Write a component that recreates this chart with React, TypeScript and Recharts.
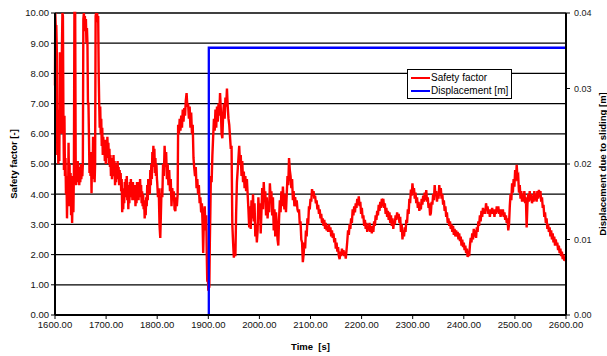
import React from "react";
import {
  CartesianGrid,
  Line,
  LineChart,
  XAxis,
  YAxis,
} from "recharts";

// Safety factor against sliding, [time s, factor -]
const safetyFactor: [number, number][] = [
  [1600, 7.6], [1600.5, 10.0], [1601.5, 9.5], [1602.5, 9.6], [1603.5, 8.8], [1604.5, 5.3], [1605.5, 6.8],
  [1606.5, 5.0], [1607.5, 6.2], [1608.5, 5.1], [1609.5, 8.7], [1610.5, 8.6], [1611.5, 8.2], [1612.5, 6.0],
  [1613.5, 8.7], [1614.5, 10.0], [1615.5, 9.9], [1616.5, 6.5], [1617.5, 4.8], [1618.5, 6.6], [1619.5, 4.6],
  [1620.5, 5.2], [1621.5, 4.0], [1622.5, 4.6], [1623.5, 3.2], [1624.5, 4.4], [1625.5, 3.6], [1626.5, 5.7],
  [1627.5, 4.3], [1628.5, 5.0], [1629.5, 3.6], [1630.5, 4.7], [1631.5, 3.3], [1632.5, 4.3], [1633.5, 3.05],
  [1635, 4.6], [1636, 3.4], [1637, 4.8], [1638, 10.0], [1639.5, 10.0], [1640.5, 4.9], [1641.5, 4.3],
  [1642.5, 5.0], [1643.5, 4.4], [1644.5, 5.1], [1645.5, 4.5], [1646.5, 4.9], [1647.5, 4.3], [1648.5, 4.9],
  [1649.5, 4.4], [1650.5, 5.0], [1651.5, 4.5], [1652.5, 4.8], [1653.5, 4.6], [1654.5, 5.0], [1655.5, 9.8],
  [1656.5, 10.0], [1657.5, 9.7], [1658.5, 9.9], [1659.5, 9.4], [1660.5, 9.8], [1661.5, 9.0], [1662.5, 9.5],
  [1663.5, 9.0], [1664.5, 7.0], [1665.5, 7.0], [1666.5, 5.9], [1667.5, 4.7], [1668.5, 5.4], [1669.5, 4.6],
  [1670.5, 5.4], [1671.5, 4.03], [1672.5, 5.4], [1673.5, 4.5], [1674.5, 5.9], [1675.5, 4.6], [1676.5, 5.5],
  [1677.5, 4.4], [1678.5, 5.0], [1679.5, 9.9], [1680.5, 10.0], [1681.5, 9.8], [1682.5, 10.0], [1683.5, 9.7],
  [1684.5, 9.9], [1685.5, 8.0], [1686.5, 7.0], [1687.5, 6.2], [1688.5, 6.9], [1689.5, 6.0], [1690.5, 6.5],
  [1691.5, 5.6], [1692.5, 6.2], [1693.5, 5.3], [1694.5, 5.9], [1695.5, 5.3], [1696.5, 5.8], [1697.5, 5.1],
  [1698.5, 5.6], [1699.5, 5.0], [1700.5, 5.8], [1701.5, 5.2], [1702.5, 5.9], [1703.5, 5.3], [1704.5, 5.7],
  [1705.5, 5.0], [1706.5, 5.5], [1707.5, 4.9], [1708.5, 5.3], [1709.5, 4.6], [1710.5, 5.2], [1711.5, 4.5],
  [1712.5, 5.0], [1713.5, 4.6], [1714.5, 5.3], [1715.5, 4.7], [1716.5, 5.1], [1717.5, 4.3], [1718.5, 4.9],
  [1719.5, 4.4], [1720.5, 5.0], [1721.5, 4.5], [1722.5, 5.1], [1723.5, 4.6], [1724.5, 4.9], [1725.5, 4.3],
  [1726.5, 4.8], [1727.5, 4.4], [1728.5, 4.7], [1729.5, 4.1], [1730.5, 4.5], [1731.5, 3.4], [1732.5, 3.9],
  [1733.5, 3.5], [1734.5, 4.2], [1735.5, 3.7], [1736.5, 4.4], [1737.5, 3.9], [1738.5, 4.5], [1739.5, 4.0],
  [1740.5, 4.6], [1741.5, 3.8], [1742.5, 4.3], [1743.5, 3.5], [1744.5, 4.1], [1745.5, 3.7], [1746.5, 4.4],
  [1747.5, 4.0], [1748.5, 4.5], [1749.5, 3.9], [1750.5, 4.3], [1751.5, 3.8], [1752.5, 4.4], [1753.5, 3.9],
  [1754.5, 4.2], [1755.5, 3.8], [1756.5, 4.3], [1757.5, 3.6], [1758.5, 4.1], [1759.5, 3.7], [1760.5, 4.4],
  [1761.5, 3.9], [1762.5, 4.2], [1763.5, 3.8], [1764.5, 4.4], [1765.5, 3.9], [1766.5, 4.5], [1767.5, 4.0],
  [1768.5, 4.3], [1769.5, 3.7], [1770.5, 4.1], [1771.5, 3.6], [1772.5, 4.0], [1773.5, 3.5], [1774.5, 3.8],
  [1775.5, 3.2], [1776.5, 3.6], [1777.5, 3.3], [1778.5, 3.9], [1779.5, 3.6], [1780.5, 4.3], [1781.5, 3.8],
  [1782.5, 4.5], [1783.5, 4.0], [1784.5, 4.4], [1785.5, 4.0], [1786.5, 4.8], [1787.5, 4.3], [1788.5, 5.0],
  [1789.5, 4.5], [1790.5, 5.4], [1791.5, 4.9], [1792.5, 5.6], [1793.5, 5.0], [1794.5, 5.5], [1795.5, 4.7],
  [1796.5, 5.2], [1797.5, 4.6], [1798.5, 5.0], [1799.5, 4.5],
  [1800, 4.4], [1801.5, 3.9], [1803, 4.2], [1804.5, 3.0], [1806, 2.55], [1807, 3.2], [1808.5, 4.2],
  [1810, 3.9], [1811.5, 5.0], [1813, 4.6], [1814.5, 5.6], [1816, 4.9], [1817.5, 5.4], [1819, 4.5],
  [1820.5, 5.0], [1822, 4.3], [1823.5, 4.8], [1825, 4.1], [1826.5, 4.5], [1828, 3.6], [1829.5, 4.2],
  [1831, 3.8], [1832.5, 4.1], [1834, 3.5], [1835.5, 3.44], [1837, 3.9], [1838.5, 3.6], [1840, 4.0],
  [1841, 6.3], [1842.5, 6.0], [1844, 6.5], [1845.5, 6.1], [1847, 6.6], [1848.5, 6.2], [1850, 6.8],
  [1851.5, 6.4], [1853, 6.85], [1854.5, 6.6], [1856, 7.1], [1857.5, 7.35], [1859, 6.9], [1860.5, 7.0],
  [1862, 6.5], [1863.5, 6.9], [1865, 6.2], [1866.5, 6.7], [1868, 6.0], [1869.5, 6.3], [1871, 5.2],
  [1872.5, 4.87], [1874, 4.6], [1875.5, 4.9], [1877, 4.2], [1878.5, 4.5], [1880, 4.0], [1881.5, 4.3],
  [1883, 3.7], [1884.5, 3.9], [1886, 3.4], [1887.5, 3.7], [1889, 2.9], [1890, 2.05], [1891.5, 3.3],
  [1893, 3.6], [1894.5, 2.8], [1896, 3.3], [1897, 2.0], [1898, 1.1], [1899, 1.4], [1900, 0.8],
  [1901, 1.3], [1902, 0.9], [1903, 2.4], [1904, 3.4], [1905, 4.6], [1906.5, 4.4], [1908, 5.3],
  [1909.5, 5.9], [1911, 6.5], [1912.5, 6.1], [1914, 6.8], [1915.5, 6.2], [1917, 6.9], [1918.5, 6.4],
  [1920, 7.0], [1921.5, 6.6], [1923, 7.35], [1924.5, 6.8], [1926, 6.0], [1927.5, 5.85], [1929, 6.6],
  [1930.5, 7.0], [1932, 6.5], [1933.5, 7.2], [1935, 6.9], [1936.5, 7.5], [1938, 6.9], [1939.5, 6.5],
  [1941, 6.3], [1942.5, 5.9], [1944, 5.5], [1945.5, 5.6], [1947, 3.0], [1948.5, 2.4], [1950, 1.9],
  [1951.5, 2.2], [1953, 1.95], [1954.5, 3.4], [1956, 4.4], [1957.5, 4.8], [1959, 5.2], [1960.5, 5.6],
  [1962, 5.0], [1963.5, 5.3], [1965, 4.6], [1966.5, 5.1], [1968, 4.4], [1969.5, 4.75], [1971, 4.2],
  [1972.5, 4.6], [1974, 4.1], [1975.5, 4.5], [1977, 4.0], [1978.5, 3.5], [1980, 2.9], [1981.5, 3.6],
  [1983, 2.85], [1984.5, 3.8], [1986, 3.2], [1987.5, 4.0], [1989, 3.1], [1990.5, 3.7], [1992, 2.6],
  [1993.5, 3.0], [1995, 2.4], [1996.5, 2.8], [1998, 3.9], [1999.5, 3.2], [2001, 3.7], [2002.5, 2.7],
  [2004, 3.4], [2005.5, 4.2], [2007, 3.5], [2008.5, 4.4], [2010, 3.8], [2011.5, 4.1], [2013, 3.3],
  [2014.5, 3.9], [2016, 3.2], [2017.5, 3.7], [2019, 3.4], [2020.5, 4.36], [2022, 3.9], [2023.5, 4.1],
  [2025, 3.3], [2026.5, 3.9], [2028, 2.8], [2029.5, 3.5], [2031, 2.6], [2032.5, 3.4], [2034, 3.0],
  [2035.5, 2.5], [2037, 2.3], [2038.5, 3.2], [2040, 3.8], [2041.5, 3.4], [2043, 4.1], [2044.5, 3.6],
  [2046, 4.25], [2047.5, 3.8], [2049, 3.5], [2050.5, 4.0], [2052, 3.4], [2053.5, 4.0], [2055, 4.6],
  [2056.5, 4.3], [2058, 5.2], [2059.5, 4.8], [2061, 4.6], [2062.5, 4.2], [2064, 4.5], [2065.5, 3.8],
  [2067, 4.1], [2068.5, 3.6], [2070, 3.9], [2071.5, 3.6], [2073, 3.8], [2074.5, 3.5], [2076, 3.4],
  [2077.5, 3.5], [2079, 3.0], [2080.5, 3.1], [2082, 2.5], [2083.5, 2.4], [2085, 1.75], [2086.5, 2.0],
  [2088, 2.4], [2089.5, 2.2], [2091, 2.8], [2092.5, 2.6], [2094, 3.2], [2095.5, 3.0], [2097, 3.6],
  [2098.5, 3.5], [2100, 3.85], [2101.5, 3.75], [2103, 4.17], [2104.5, 4.0], [2106, 4.1], [2107.5, 3.85],
  [2109, 3.95], [2110.5, 3.7], [2112, 3.8], [2113.5, 3.5], [2115, 3.65], [2116.5, 3.35], [2118, 3.5],
  [2119.5, 3.2], [2121, 3.35], [2122.5, 3.05], [2124, 3.2], [2125.5, 2.95], [2127, 3.15], [2128.5, 2.85],
  [2130, 3.05], [2131.5, 2.8], [2133, 2.95], [2134.5, 2.75], [2136, 3.0], [2137.5, 2.75], [2139, 2.9],
  [2140.5, 2.6], [2142, 2.8], [2143.5, 2.55], [2145, 2.7], [2146.5, 2.4], [2148, 2.55], [2149.5, 2.2],
  [2151, 2.4], [2152.5, 2.1], [2154, 2.25], [2155.5, 1.95], [2157, 1.85], [2158.5, 2.1], [2160, 1.95],
  [2161.5, 2.2], [2163, 2.0], [2164.5, 2.15], [2166, 1.95], [2167.5, 2.1], [2169, 1.87], [2170.5, 2.15],
  [2172, 2.45], [2173.5, 2.8], [2175, 2.65], [2176.5, 3.0], [2178, 2.85], [2179.5, 3.2], [2181, 3.05],
  [2182.5, 3.5], [2184, 3.3], [2185.5, 3.6], [2187, 3.4], [2188.5, 3.7], [2190, 3.55], [2191.5, 3.85],
  [2193, 3.65], [2194.5, 3.93], [2196, 3.6], [2197.5, 3.75], [2199, 3.35], [2200.5, 3.55], [2202, 3.2],
  [2203.5, 3.3], [2205, 2.95], [2206.5, 3.15], [2208, 2.85], [2209.5, 3.05], [2211, 2.75], [2212.5, 2.95],
  [2214, 2.8], [2215.5, 3.05], [2217, 2.75], [2218.5, 2.95], [2220, 2.7], [2221.5, 2.95], [2223, 2.75],
  [2224.5, 3.1], [2226, 2.95], [2227.5, 3.3], [2229, 3.15], [2230.5, 3.45], [2232, 3.3], [2233.5, 3.65],
  [2235, 3.45], [2236.5, 3.75], [2238, 3.55], [2239.5, 3.85], [2241, 3.6], [2242.5, 3.85], [2244, 3.55],
  [2245.5, 3.7], [2247, 3.35], [2248.5, 3.55], [2250, 3.25], [2251.5, 3.45], [2253, 3.15], [2254.5, 3.4],
  [2256, 3.05], [2257.5, 3.3], [2259, 2.95], [2260.5, 3.2], [2262, 2.85], [2263.5, 3.1], [2265, 3.0],
  [2266.5, 3.3], [2268, 3.15], [2269.5, 3.4], [2271, 3.2], [2272.5, 3.35], [2274, 3.05], [2275.5, 3.25],
  [2277, 2.75], [2278.5, 3.0], [2280, 2.5], [2281.5, 2.8], [2283, 2.6], [2284.5, 2.9], [2286, 2.75],
  [2287.5, 3.15], [2289, 3.05], [2290.5, 3.5], [2292, 3.35], [2293.5, 3.85], [2295, 3.7], [2296.5, 4.15],
  [2298, 3.95], [2299.5, 4.36], [2301, 4.05], [2302.5, 4.2], [2304, 3.85], [2305.5, 4.05], [2307, 3.7],
  [2308.5, 3.9], [2310, 3.55], [2311.5, 3.75], [2313, 3.45], [2314.5, 3.65], [2316, 3.5], [2317.5, 3.85],
  [2319, 3.65], [2320.5, 3.95], [2322, 3.75], [2323.5, 4.05], [2325, 3.8], [2326.5, 4.14], [2328, 3.75],
  [2329.5, 3.9], [2331, 3.55], [2332.5, 3.7], [2334, 3.3], [2335.5, 3.37], [2337, 3.75], [2338.5, 3.65],
  [2340, 4.0], [2341.5, 3.8], [2343, 4.3], [2344.5, 3.95], [2346, 4.1], [2347.5, 3.75], [2349, 4.0],
  [2350.5, 3.85], [2352, 4.3], [2353.5, 3.95], [2355, 4.2], [2356.5, 3.85], [2358, 4.0], [2359.5, 3.65],
  [2361, 3.8], [2362.5, 3.45], [2364, 3.6], [2365.5, 3.25], [2367, 3.4], [2368.5, 3.05], [2370, 3.2],
  [2371.5, 2.95], [2373, 3.1], [2374.5, 2.85], [2376, 3.0], [2377.5, 2.75], [2379, 2.95], [2380.5, 2.65],
  [2382, 2.85], [2383.5, 2.6], [2385, 2.8], [2386.5, 2.6], [2388, 2.75], [2389.5, 2.5], [2391, 2.7],
  [2392.5, 2.45], [2394, 2.6], [2395.5, 2.3], [2397, 2.5], [2398.5, 2.25], [2400, 2.4], [2401.5, 2.15],
  [2403, 2.3], [2404.5, 2.05], [2406, 2.2], [2407.5, 1.92], [2409, 2.1], [2410.5, 1.95], [2412, 2.3],
  [2413.5, 2.55], [2415, 2.4], [2416.5, 2.7], [2418, 2.5], [2419.5, 2.85], [2421, 2.6], [2422.5, 2.8],
  [2424, 2.55], [2425.5, 2.9], [2427, 2.75], [2428.5, 3.1], [2430, 2.95], [2431.5, 3.3], [2433, 3.1],
  [2434.5, 3.45], [2436, 3.25], [2437.5, 3.55], [2439, 3.35], [2440.5, 3.5], [2442, 3.35], [2443.5, 3.7],
  [2445, 3.5], [2446.5, 3.6], [2448, 3.35], [2449.5, 3.5], [2451, 3.25], [2452.5, 3.5], [2454, 3.35],
  [2455.5, 3.55], [2457, 3.35], [2458.5, 3.5], [2460, 3.25], [2461.5, 3.5], [2463, 3.35], [2464.5, 3.6],
  [2466, 3.4], [2467.5, 3.6], [2469, 3.35], [2470.5, 3.5], [2472, 3.25], [2473.5, 3.5], [2475, 3.3],
  [2476.5, 3.5], [2478, 3.25], [2479.5, 3.4], [2481, 3.15], [2482.5, 3.3], [2484, 3.05], [2485.5, 3.2],
  [2487, 2.8], [2488.5, 3.0], [2490, 3.6], [2491.5, 4.0], [2493, 3.8], [2494.5, 4.36], [2496, 4.05],
  [2497.5, 4.5], [2499, 4.25], [2500.5, 4.8], [2502, 4.45], [2503.5, 4.97], [2505, 4.55], [2506.5, 4.6],
  [2508, 4.05], [2509.5, 4.3], [2511, 3.85], [2512.5, 4.1], [2514, 3.75], [2515.5, 4.0], [2517, 3.75],
  [2518.5, 4.1], [2520, 3.7], [2521.5, 3.9], [2523, 2.9], [2524.5, 3.65], [2526, 4.0], [2527.5, 3.75],
  [2529, 4.1], [2530.5, 3.8], [2532, 4.0], [2533.5, 3.7], [2535, 3.95], [2536.5, 3.75], [2538, 4.1],
  [2539.5, 3.8], [2541, 4.0], [2542.5, 3.75], [2544, 4.1], [2545.5, 3.85], [2547, 4.14], [2548.5, 3.9],
  [2550, 4.1], [2551.5, 3.75], [2553, 3.9], [2554.5, 3.55], [2556, 3.65], [2557.5, 3.25], [2559, 3.4],
  [2560.5, 3.05], [2562, 3.2], [2563.5, 2.85], [2565, 3.0], [2566.5, 2.75], [2568, 2.9], [2569.5, 2.6],
  [2571, 2.8], [2572.5, 2.5], [2574, 2.7], [2575.5, 2.4], [2577, 2.6], [2578.5, 2.3], [2580, 2.5],
  [2581.5, 2.3], [2583, 2.4], [2584.5, 2.15], [2586, 2.3], [2587.5, 2.05], [2589, 2.2], [2590.5, 1.95],
  [2592, 2.1], [2593.5, 1.85], [2595, 2.0], [2596.5, 1.8], [2598, 1.9], [2600, 1.77],
];

// Displacement due to sliding, [time s, displacement m]; zero until the slip event
const displacement: [number, number][] = [
  [1901, 0],
  [1901, 0.0354],
  [2600, 0.0354],
];

const timeTicks = [1600, 1700, 1800, 1900, 2000, 2100, 2200, 2300, 2400, 2500, 2600];
const safetyTicks = [0, 1, 2, 3, 4, 5, 6, 7, 8, 9, 10];
const displacementTicks = [0, 0.01, 0.02, 0.03, 0.04];

const seriesNames = [
  { color: "#ff0000", name: "Safety factor" },
  { color: "#0000ff", name: "Displacement [m]" },
];

const safetyData = safetyFactor.map(([t, v]) => ({ t, v }));
const displacementData = displacement.map(([t, d]) => ({ t, d }));

const FONT = "'Liberation Sans', Arial, sans-serif";

// key box sitting over the upper right of the plot
const LegendBox = () => (
  <div
    style={{
      position: "absolute",
      left: 407,
      top: 69,
      width: 105,
      height: 30,
      boxSizing: "border-box",
      border: "1px solid #000",
      background: "#fff",
      fontFamily: FONT,
      fontSize: 10,
      color: "#000",
      paddingTop: 1,
    }}
  >
    {seriesNames.map((item) => (
      <div
        key={item.name}
        style={{ display: "flex", alignItems: "center", height: 13, whiteSpace: "nowrap" }}
      >
        <span
          style={{
            display: "inline-block",
            width: 19,
            height: 2,
            marginLeft: 3,
            marginRight: 1,
            background: item.color,
          }}
        />
        <span>{item.name}</span>
      </div>
    ))}
  </div>
);

const rotatedTitle = (text: string, dx: number) => ({ viewBox }: any) => {
  const x = viewBox.x + dx;
  const y = viewBox.y + viewBox.height / 2;
  return (
    <text
      x={x}
      y={y}
      transform={`rotate(-90 ${x} ${y})`}
      textAnchor="middle"
      dominantBaseline="middle"
      fontFamily={FONT}
      fontSize={9.5}
      fontWeight="bold"
      fill="#000"
    >
      {text}
    </text>
  );
};

export default function App() {
  return (
    <div style={{ position: "absolute", left: 0, top: 0, width: 607, height: 356, background: "#fff" }}>
      <LineChart
        width={607}
        height={356}
        margin={{ top: 13, right: 0, bottom: 0, left: 0 }}
      >
        <CartesianGrid
          horizontal={true}
          vertical={false}
          yAxisId="left"
          stroke="#000"
          strokeWidth={1.3}
        />
        <XAxis
          dataKey="t"
          type="number"
          domain={[1600, 2600]}
          ticks={timeTicks}
          tickFormatter={(v: number) => v.toFixed(2)}
          height={41}
          axisLine={{ stroke: "#000", strokeWidth: 2 }}
          tickLine={{ stroke: "#000" }}
          tickSize={4}
          tick={{ fill: "#111", fontSize: 9.5, fontFamily: FONT }}
          label={{
            content: ({ viewBox }: any) => (
              <text
                x={viewBox.x + viewBox.width / 2}
                y={viewBox.y + 35}
                textAnchor="middle"
                fontFamily={FONT}
                fontSize={9.5}
                fontWeight="bold"
                fill="#000"
                style={{ whiteSpace: "pre" }}
              >
                {"Time  [s]"}
              </text>
            ),
          }}
        />
        <YAxis
          yAxisId="left"
          orientation="left"
          domain={[0, 10]}
          ticks={safetyTicks}
          tickFormatter={(v: number) => v.toFixed(2)}
          width={55}
          axisLine={{ stroke: "#000", strokeWidth: 2 }}
          tickLine={{ stroke: "#000" }}
          tickSize={4}
          tick={{ fill: "#111", fontSize: 9.5, fontFamily: FONT }}
          label={{ content: rotatedTitle("Safety factor [-]", 14) }}
        />
        <YAxis
          yAxisId="right"
          orientation="right"
          domain={[0, 0.04]}
          ticks={displacementTicks}
          tickFormatter={(v: number) => v.toFixed(2)}
          width={41}
          axisLine={{ stroke: "#000", strokeWidth: 2 }}
          tickLine={{ stroke: "#000" }}
          tickSize={4}
          tickMargin={4}
          tick={{ fill: "#222", fontSize: 9, fontFamily: FONT }}
          label={{ content: rotatedTitle("Displacement due to sliding [m]", 37) }}
        />
        <Line
          yAxisId="left"
          data={safetyData}
          dataKey="v"
          type="linear"
          stroke="#ff0000"
          strokeWidth={2.4}
          dot={false}
          isAnimationActive={false}
        />
        <Line
          yAxisId="right"
          data={displacementData}
          dataKey="d"
          type="linear"
          stroke="#0000ff"
          strokeWidth={2.3}
          dot={false}
          isAnimationActive={false}
        />
      </LineChart>
      <LegendBox />
    </div>
  );
}
